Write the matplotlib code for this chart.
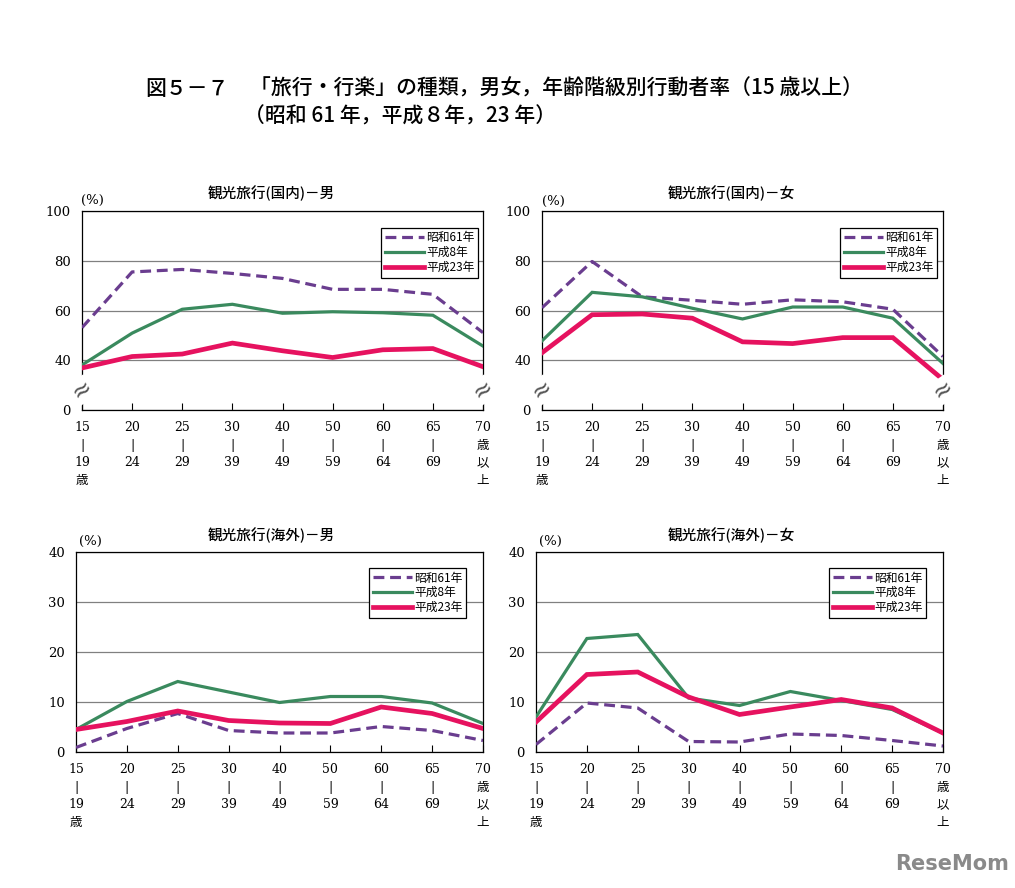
import numpy as np
import matplotlib
matplotlib.use('Agg')
from matplotlib import pyplot as plt

# age groups (x axis)
age_labels = ['15\n|\n19\n歳', '20\n|\n24', '25\n|\n29', '30\n|\n39', '40\n|\n49',
              '50\n|\n59', '60\n|\n64', '65\n|\n69', '70\n歳\n以\n上']
series_names = ['昭和61年', '平成8年', '平成23年']

# 観光旅行(国内) - 男
dom_male_s61 = [53.1, 75.5, 76.5, 74.9, 72.9, 68.5, 68.5, 66.5, 51.1]
dom_male_h8 = [38.1, 50.9, 60.5, 62.5, 58.9, 59.5, 59.1, 58.1, 45.7]
dom_male_h23 = [36.9, 41.5, 42.5, 46.9, 43.8, 41.1, 44.2, 44.7, 37.4]

# 観光旅行(国内) - 女
dom_female_s61 = [61.1, 79.7, 65.5, 64.1, 62.5, 64.3, 63.5, 60.5, 41.5]
dom_female_h8 = [47.8, 67.3, 65.5, 60.9, 56.6, 61.4, 61.4, 56.9, 38.7]
dom_female_h23 = [43.0, 58.3, 58.6, 56.9, 47.4, 46.7, 49.1, 49.1, 32.2]

# 観光旅行(海外) - 男
ovs_male_s61 = [0.9, 4.7, 7.7, 4.3, 3.8, 3.8, 5.1, 4.3, 2.3]
ovs_male_h8 = [4.5, 10.1, 14.1, 12.0, 9.9, 11.1, 11.1, 9.8, 5.7]
ovs_male_h23 = [4.5, 6.1, 8.2, 6.3, 5.8, 5.7, 9.0, 7.7, 4.7]

# 観光旅行(海外) - 女
ovs_female_s61 = [1.5, 9.8, 8.8, 2.1, 2.0, 3.6, 3.3, 2.3, 1.2]
ovs_female_h8 = [7.0, 22.7, 23.5, 10.8, 9.3, 12.1, 10.3, 8.5, 3.8]
ovs_female_h23 = [6.0, 15.5, 16.0, 11.0, 7.5, 9.0, 10.5, 8.8, 3.8]

colors = ['#6a3d8f', '#3a8a5e', '#e6125f']
widths = [2.3, 2.3, 3.4]
styles = [(0, (3.4, 1.8)), '-', '-']

num_font = ['DejaVu Serif', 'Noto Sans CJK JP']
jp_font = ['Noto Sans CJK JP', 'DejaVu Sans']


def fwd(v):
    v = np.asarray(v, dtype=float)
    return np.where(v >= 30, (v - 20) / 20, v / 60)


def inv(d):
    d = np.asarray(d, dtype=float)
    return np.where(d >= 0.5, d * 20 + 20, d * 60)


def draw_panel(ax, data, broken, legend_anchor):
    x = np.arange(len(age_labels))
    for vals, name, c, lw, ls in zip(data, series_names, colors, widths, styles):
        ax.plot(x, vals, color=c, lw=lw, linestyle=ls, label=name, zorder=3,
                solid_joinstyle='miter', dash_capstyle='butt')
    ax.set_xlim(0, len(age_labels) - 1)
    ax.set_xticks(x)
    ax.set_xticklabels(age_labels, family=num_font, fontsize=9, linespacing=1.45)
    ax.tick_params(axis='x', direction='in', length=5, width=0.8, pad=8)
    if broken:
        ax.set_yscale('function', functions=(fwd, inv))
        ax.set_ylim(0, 100)
        ax.set_yticks([0, 40, 60, 80, 100])
    else:
        ax.set_ylim(0, 40)
        ax.set_yticks([0, 10, 20, 30, 40])
    ax.yaxis.set_minor_locator(matplotlib.ticker.NullLocator())
    ax.set_yticklabels([str(int(t)) for t in ax.get_yticks()], family=num_font, fontsize=9.5)
    ax.tick_params(axis='y', length=0, pad=8)
    ax.grid(axis='y', color='#808080', lw=0.9, zorder=1)
    for s in ax.spines.values():
        s.set_linewidth(0.9)
        s.set_color('black')
    if broken:
        for xs in (0, 1):
            ax.text(xs, 0.1, '≈', transform=ax.transAxes, ha='center', va='center',
                    fontsize=17, rotation=35, color='#555555', zorder=5, clip_on=False,
                    bbox=dict(facecolor='white', edgecolor='none', pad=0.2))
    leg = ax.legend(loc='upper right', bbox_to_anchor=legend_anchor, prop={'family': jp_font, 'size': 8.5},
                    handlelength=3.3, handletextpad=0.2, borderpad=0.3, labelspacing=0.15,
                    fancybox=False, framealpha=1, edgecolor='black', borderaxespad=0)
    leg.get_frame().set_linewidth(0.9)


fig = plt.figure(figsize=(10.15, 8.88), dpi=100)
W, H = 1015, 888


def add_axes(l, t, r, b):
    return fig.add_axes([l / W, 1 - b / H, (r - l) / W, (b - t) / H])


ax_tl = add_axes(82, 211, 483, 410)
ax_tr = add_axes(542, 211, 943, 410)
ax_bl = add_axes(76, 552, 483, 752)
ax_br = add_axes(536, 552, 943, 752)

draw_panel(ax_tl, [dom_male_s61, dom_male_h8, dom_male_h23], True, (0.9875, 0.915))
draw_panel(ax_tr, [dom_female_s61, dom_female_h8, dom_female_h23], True, (0.985, 0.915))
draw_panel(ax_bl, [ovs_male_s61, ovs_male_h8, ovs_male_h23], False, (0.958, 0.92))
draw_panel(ax_br, [ovs_female_s61, ovs_female_h8, ovs_female_h23], False, (0.958, 0.92))

panel_titles = ['観光旅行(国内)－男', '観光旅行(国内)－女', '観光旅行(海外)－男', '観光旅行(海外)－女']
title_pos = [(271, 193), (731, 193), (271, 535), (731, 535)]
pct_pos = [(92, 200), (553, 201), (90, 541), (550, 541)]
for t, (tx, ty), (px, py) in zip(panel_titles, title_pos, pct_pos):
    fig.text(tx / W, 1 - ty / H, t, ha='center', va='center', family=jp_font, fontsize=10.5,
             fontweight='medium')
    fig.text(px / W, 1 - py / H, '(%)', ha='center', va='center', family=num_font, fontsize=9.5)

fig.text(145 / W, 1 - 89 / H, '図５－７', ha='left', va='center', family=jp_font, fontsize=15,
         fontweight='medium')
fig.text(250 / W, 1 - 89 / H, '「旅行・行楽」の種類，男女，年齢階級別行動者率（15 歳以上）',
         ha='left', va='center', family=jp_font, fontsize=15, fontweight='medium')
fig.text(244 / W, 1 - 117 / H, '（昭和 61 年，平成８年，23 年）',
         ha='left', va='center', family=jp_font, fontsize=15, fontweight='medium')

fig.text(952 / W, 1 - 864 / H, 'ReseMom', ha='center', va='center', family='DejaVu Sans',
         fontsize=15, fontweight='bold', color='#8a8a8a')

fig.savefig('out.png', dpi=100)
